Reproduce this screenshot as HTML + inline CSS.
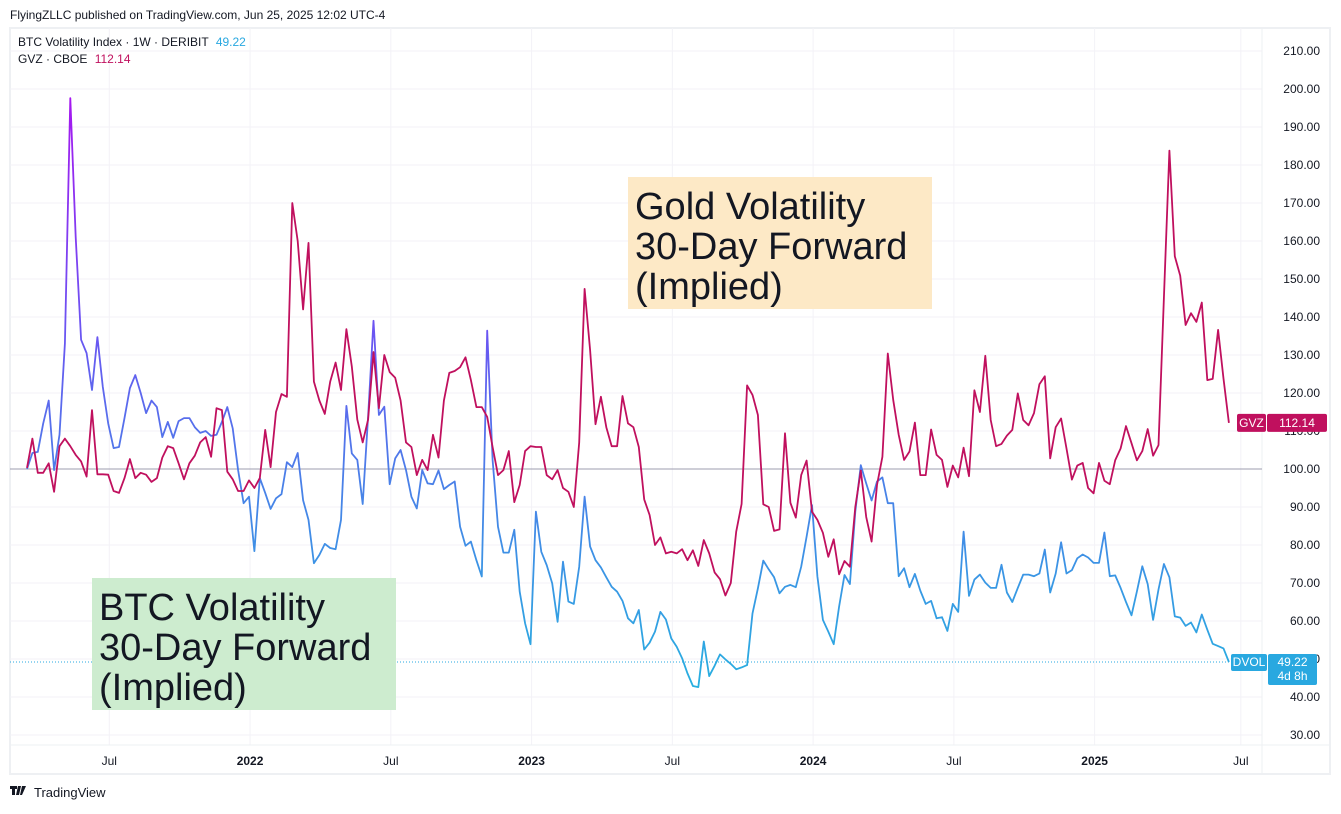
<!DOCTYPE html>
<html><head><meta charset="utf-8">
<style>
html,body{margin:0;padding:0;background:#fff;}
body{width:1341px;height:809px;overflow:hidden;font-family:"Liberation Sans",sans-serif;}
</style></head>
<body>
<svg id="chart" width="1341" height="809" xmlns="http://www.w3.org/2000/svg" font-family="Liberation Sans, sans-serif">
<defs>
<linearGradient id="btcGrad" gradientUnits="userSpaceOnUse" x1="0" y1="95" x2="0" y2="690">
<stop offset="0" stop-color="#a616f0"/>
<stop offset="0.4" stop-color="#6a55f2"/>
<stop offset="0.65" stop-color="#4a80e8"/>
<stop offset="1" stop-color="#27b0e0"/>
</linearGradient>
</defs>
<text x="10" y="19" font-size="12" fill="#131722">FlyingZLLC published on TradingView.com, Jun 25, 2025 12:02 UTC-4</text>
<rect x="10" y="28" width="1320" height="746" fill="none" stroke="#eef0f3" stroke-width="2"/>
<g id="grid"></g>
<line x1="10" y1="745" x2="1330" y2="745" stroke="#eef0f3" stroke-width="1"/>
<line x1="1262" y1="28" x2="1262" y2="774" stroke="#eef0f3" stroke-width="1"/>
<g id="yticks"></g>
<g id="xticks"></g>
<line x1="10" y1="469" x2="1262" y2="469" stroke="#9d9caf" stroke-width="1"/>
<line id="dvolLine" x1="10" x2="1262" stroke="#29a8e0" stroke-width="1" stroke-dasharray="1,2"/>
<rect x="92" y="578" width="304" height="132" fill="#cdeccf"/>
<text font-size="38" fill="#131722"><tspan x="99" y="620">BTC Volatility</tspan><tspan x="99" y="660">30-Day Forward</tspan><tspan x="99" y="700">(Implied)</tspan></text>
<rect x="628" y="177" width="304" height="132" fill="#fde9c6"/>
<text font-size="38" fill="#131722"><tspan x="635" y="219">Gold Volatility</tspan><tspan x="635" y="259">30-Day Forward</tspan><tspan x="635" y="299">(Implied)</tspan></text>
<path id="btcPath" fill="none" stroke="url(#btcGrad)" stroke-width="1.8" stroke-linejoin="round"/>
<path id="gvzPath" fill="none" stroke="#c0105e" stroke-width="1.8" stroke-linejoin="round"/>
<text x="18" y="46" font-size="12" fill="#131722">BTC Volatility Index · 1W · DERIBIT <tspan fill="#29a8e0" dx="4">49.22</tspan></text>
<text x="18" y="63" font-size="12" fill="#131722">GVZ · CBOE <tspan fill="#c0105e" dx="4">112.14</tspan></text>
<g id="gvzLabel"></g>
<g id="dvolLabel"></g>
<g>
<path d="M10 786h7v3h-2v6h-3v-6h-2z M18 786h3l-2 9h-3z M22 786h4l-4 9h-2z" fill="#131722"/>
<text x="34" y="797" font-size="13" fill="#131722">TradingView</text>
</g>
</svg>
<script>
const btcValues=[100,104.2,104.5,112,118,99.7,109,133,197.6,161,134,130.5,120.8,134.7,121.6,112,105.5,105.8,113.4,121.3,124.7,120,114.7,118,116.3,108.4,112.4,108.2,112.6,113.4,113.4,111,109.5,110,108.7,109,112.4,116.3,110.7,99.7,91,92.7,78.4,97.6,93.7,89.5,92.3,93.4,101.8,100.5,104.2,91.8,86.6,75.2,77.4,80.3,79.2,
78.9,86.6,116.6,104.1,102.4,90.8,113.8,139,114.2,116.4,96,102.8,105,99.7,92.7,89.6,99.7,96.2,96,99.6,94.7,95.8,96.7,84.8,79.8,80.9,76,71.7,136.4,102.4,84.8,78,78,84,67.7,59.4,53.9,88.8,78.2,74.7,69.9,59.8,75.6,65.1,64.5,74.3,92.7,79.6,76,74.1,71.5,69,67.7,65.3,60.7,59.4,62.9,
52.5,54.3,57.2,62.4,60.4,55.4,53.2,50.2,46.2,42.9,42.6,54.6,45.5,48.2,51.2,49.9,48.7,47.3,47.8,48.4,62,68.6,75.9,73.6,71.5,67.3,69,69.5,68.9,74.3,82.2,90.5,71.7,60.3,57.2,53.9,63.8,72.1,69.7,88.8,101,96.2,91.7,96.7,97.8,91,91,71.8,73.9,68.9,72.4,68,64.5,65.3,60.7,61,57.4,
64.5,62.4,83.5,66.6,70.9,72.2,70.1,68.7,68.7,74.8,67.5,65,68.7,72.2,72.2,71.8,72.5,78.8,67.5,72.5,80.7,72.5,73.4,76.5,77.5,76.7,75.3,75.3,83.3,71.8,72,68.7,65,61.5,67.8,74.4,69.7,60.3,68.3,75,71.5,61.2,60.9,58.7,59.6,57,61.7,57.7,54,53.4,52.8,49.22];
const gvzValues=[100.3,108,99,99,101.5,94,106,108,106,103.7,102,98,115.5,98.6,98.6,98.5,94.2,93.7,97.6,102.6,97.6,99,98.5,96.6,97.6,103,106,105.5,101.5,97.3,101.5,103.5,107,108.4,103.2,116,115.5,99.3,97.3,94.2,94.2,97,95,97.6,110.3,100.5,115,119.7,119,170,160,142,159.5,123,118,114.5,123,
128,120.8,136.8,127,113,107,113,130.8,116,130,125.5,124,118,107,105.8,98.4,102.4,99.7,109,103,118,125.3,125.8,126.8,129.4,123.4,116.3,116.3,113.7,105.8,98.4,99.7,104.7,91.3,95.8,104.7,106,105.8,105.8,98.4,97.3,99.7,95,94,90,107,147.4,131.3,111.8,119,111,106,106,119.2,112,111,105.8,
92,87.9,80,82,77.8,78.2,77.8,78.9,76,78.6,74.5,81.3,77.8,72.8,71,66.7,70,83.5,90.8,122,119.5,114.2,90.7,90,83.7,84.1,109.4,91.1,87.2,98.4,102.2,88.8,86.6,83.2,76.9,81.5,72.3,75.8,74.3,90,99.6,87.4,80.9,95.8,103.2,130.4,118.2,109,102.4,104.6,112.2,98.4,98.4,110.4,103.7,102.4,95.3,
100.9,97.8,105.6,98.1,120.7,115,129.8,112.9,106,106.6,108.8,110.3,119.9,112.9,111.5,114.7,122.3,124.4,102.8,111,113.3,105.4,97.2,100.9,101.6,95,93.6,101.6,96.9,96,102.3,105.4,111.3,106.8,102.3,104.7,110.5,103.5,106.3,145,183.8,156,150.9,137.9,141,138.7,143.8,123.4,123.7,136.6,123.8,112.14];
const yTicks=[30,40,50,60,70,80,90,100,110,120,130,140,150,160,170,180,190,200,210];
const xTickLabels=["Jul","2022","Jul","2023","Jul","2024","Jul","2025","Jul"];
const xTickWeeks=[15.2,41.2,67.2,93.2,119.2,145.2,171.2,197.2,224.2];

const NS="http://www.w3.org/2000/svg";
function yScale(v){return 469-(v-100)*3.8;}
function xScale(i){return 27+i*5.414;}
function mk(tag,attrs,parent){const e=document.createElementNS(NS,tag);for(const k in attrs)e.setAttribute(k,attrs[k]);parent.appendChild(e);return e;}
const grid=document.getElementById('grid'),yt=document.getElementById('yticks'),xt=document.getElementById('xticks');
yTicks.forEach(v=>{
  const l=mk('line',{x1:10,x2:1262,y1:yScale(v),y2:yScale(v),stroke:'#f3f2f7','stroke-width':1},grid);
  
  
  const t=mk('text',{x:1320,y:yScale(v)+4,'font-size':12,fill:'#131722','text-anchor':'end'},yt);
  t.textContent=v.toFixed(2);
  
  
});
xTickLabels.forEach((lab,k)=>{
  const x=xScale(xTickWeeks[k]);
  const l=mk('line',{x1:x,x2:x,y1:28,y2:745,stroke:'#f3f2f7','stroke-width':1},grid);
  
  
  const t=mk('text',{x:x,y:765,'font-size':12,fill:'#131722','text-anchor':'middle','font-weight':/^\d+$/.test(lab)?'bold':'normal'},xt);
  t.textContent=lab;
  
  
});
function pathOf(arr){return arr.map((v,i)=>(i?'L':'M')+xScale(i).toFixed(1)+' '+yScale(v).toFixed(1)).join(' ');}
document.getElementById('btcPath').setAttribute('d',pathOf(btcValues));
document.getElementById('gvzPath').setAttribute('d',pathOf(gvzValues));
const lastB=btcValues[btcValues.length-1],lastG=gvzValues[gvzValues.length-1];
const dl=document.getElementById('dvolLine');dl.setAttribute('y1',yScale(lastB));dl.setAttribute('y2',yScale(lastB));
const gl=document.getElementById('gvzLabel'),gy=yScale(lastG);
mk('rect',{x:1237,y:gy-9,width:29,height:18,rx:2,fill:'#c0105e'},gl);
mk('rect',{x:1267,y:gy-9,width:60,height:18,rx:2,fill:'#c0105e'},gl);
const g1=mk('text',{x:1251.5,y:gy+4,'font-size':12,fill:'#fff','text-anchor':'middle'},gl);g1.textContent='GVZ';
const g2=mk('text',{x:1297,y:gy+4,'font-size':12,fill:'#fff','text-anchor':'middle'},gl);g2.textContent=lastG.toFixed(2);
const dlb=document.getElementById('dvolLabel'),dy=yScale(lastB);
mk('rect',{x:1231,y:dy-8,width:36,height:17,rx:2,fill:'#29a8e0'},dlb);
mk('rect',{x:1268,y:dy-8,width:49,height:31,rx:2,fill:'#29a8e0'},dlb);
const d1=mk('text',{x:1249,y:dy+4,'font-size':12,fill:'#fff','text-anchor':'middle'},dlb);d1.textContent='DVOL';
const d2=mk('text',{x:1292.5,y:dy+4,'font-size':12,fill:'#fff','text-anchor':'middle'},dlb);d2.textContent=lastB.toFixed(2);
const d3=mk('text',{x:1292.5,y:dy+18,'font-size':12,fill:'#fff','text-anchor':'middle'},dlb);d3.textContent='4d 8h';
</script>
</body></html>
